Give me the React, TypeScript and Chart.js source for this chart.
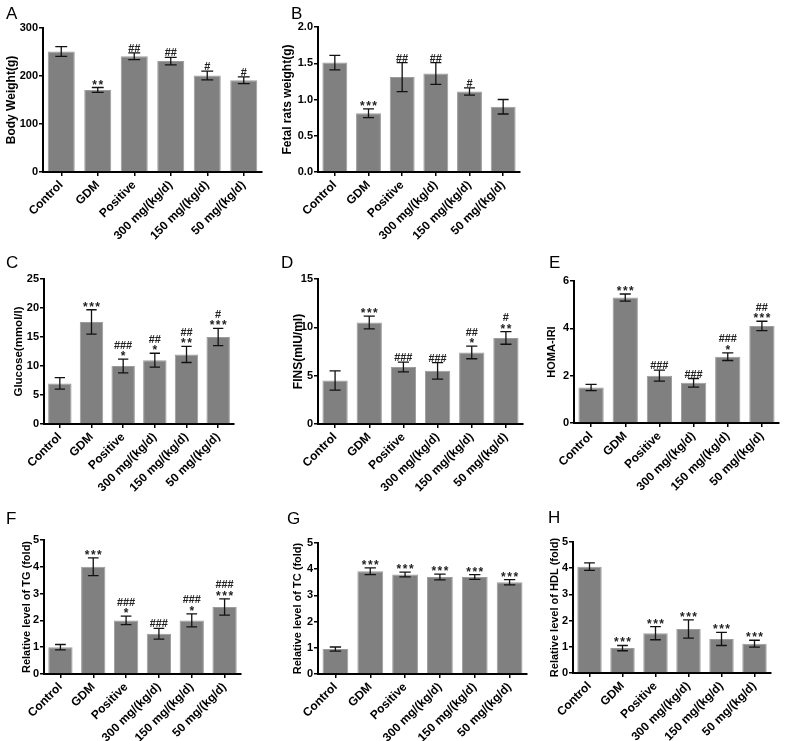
import React, { useEffect, useRef } from 'react';
import { Chart, registerables } from 'chart.js';

Chart.register(...registerables);

const FONT = '"Liberation Sans", Arial, Helvetica, sans-serif';

const categories = ['Control', 'GDM', 'Positive', '300 mg/(kg/d)', '150 mg/(kg/d)', '50 mg/(kg/d)'];

// A
const bodyWeight = [251, 171, 241, 231, 201, 191];
const bodyWeightErr = [10, 5, 7, 8, 9, 7];
const bodyWeightMarks = [[], ['**'], ['##'], ['##'], ['#'], ['#']];
const bodyWeightTicks = [0, 100, 200, 300];

// B
const fetalWeight = [1.51, 0.81, 1.31, 1.36, 1.11, 0.9];
const fetalWeightErr = [0.1, 0.06, 0.2, 0.15, 0.05, 0.1];
const fetalWeightMarks = [[], ['***'], ['##'], ['##'], ['#'], []];
const fetalWeightTicks = ['0.0', '0.5', '1.0', '1.5', '2.0'];

// C
const glucose = [7, 17.6, 10, 11, 12, 15];
const glucoseErr = [1, 2.1, 1.2, 1.2, 1.4, 1.5];
const glucoseMarks = [[], ['***'], ['###', '*'], ['##', '*'], ['##', '**'], ['#', '***']];
const glucoseTicks = [0, 5, 10, 15, 20, 25];

// D
const fins = [4.5, 10.5, 5.9, 5.5, 7.4, 8.9];
const finsErr = [1.0, 0.65, 0.5, 0.85, 0.65, 0.65];
const finsMarks = [[], ['***'], ['###'], ['###'], ['##', '*'], ['#', '**']];
const finsTicks = [0, 5, 10, 15];

// E
const homa = [1.5, 5.3, 2.0, 1.7, 2.8, 4.1];
const homaErr = [0.13, 0.15, 0.23, 0.18, 0.16, 0.2];
const homaMarks = [[], ['***'], ['###'], ['###'], ['###', '*'], ['##', '***']];
const homaTicks = [0, 2, 4, 6];

// F
const tg = [1.0, 4.0, 2.0, 1.5, 2.0, 2.5];
const tgErr = [0.1, 0.33, 0.16, 0.2, 0.24, 0.3];
const tgMarks = [[], ['***'], ['###', '*'], ['###'], ['###', '*'], ['###', '***']];
const foldTicks = [0, 1, 2, 3, 4, 5];

// G
const tc = [0.95, 3.92, 3.8, 3.7, 3.7, 3.5];
const tcErr = [0.08, 0.13, 0.09, 0.11, 0.09, 0.1];
const tcMarks = [[], ['***'], ['***'], ['***'], ['***'], ['***']];

// H
const hdl = [4.06, 0.95, 1.52, 1.68, 1.3, 1.12];
const hdlErr = [0.14, 0.1, 0.25, 0.35, 0.25, 0.13];
const hdlMarks = [[], ['***'], ['***'], ['***'], ['***'], ['***']];

type Area = { l: number; t: number; r: number; b: number };
type PanelCfg = {
  letter: string;
  letterX: number;
  letterY: number;
  title: string;
  titleSize: number;
  values: number[];
  errors: number[];
  marks: string[][];
  ticks: (number | string)[];
  area: Area;
  titleX: number;
};

const panels: PanelCfg[] = [
  { letter: 'A', letterX: 6, letterY: 5, title: 'Body Weight(g)', titleSize: 12, values: bodyWeight, errors: bodyWeightErr, marks: bodyWeightMarks, ticks: bodyWeightTicks, area: { l: 43, t: 28, r: 262, b: 172 }, titleX: 11 },
  { letter: 'B', letterX: 291, letterY: 5, title: 'Fetal rats weight(g)', titleSize: 12, values: fetalWeight, errors: fetalWeightErr, marks: fetalWeightMarks, ticks: fetalWeightTicks, area: { l: 318, t: 27, r: 520, b: 172 }, titleX: 287 },
  { letter: 'C', letterX: 6, letterY: 254, title: 'Glucose(mmol/l)', titleSize: 11.5, values: glucose, errors: glucoseErr, marks: glucoseMarks, ticks: glucoseTicks, area: { l: 44, t: 279, r: 234, b: 424 }, titleX: 19 },
  { letter: 'D', letterX: 281, letterY: 254, title: 'FINS(mIU/ml)', titleSize: 12, values: fins, errors: finsErr, marks: finsMarks, ticks: finsTicks, area: { l: 318, t: 279, r: 523, b: 424 }, titleX: 298 },
  { letter: 'E', letterX: 549, letterY: 254, title: 'HOMA-IRI', titleSize: 11, values: homa, errors: homaErr, marks: homaMarks, ticks: homaTicks, area: { l: 574, t: 281, r: 779, b: 423 }, titleX: 552 },
  { letter: 'F', letterX: 6, letterY: 510, title: 'Relative level of TG (fold)', titleSize: 11, values: tg, errors: tgErr, marks: tgMarks, ticks: foldTicks, area: { l: 44, t: 540, r: 241, b: 674 }, titleX: 27 },
  { letter: 'G', letterX: 287, letterY: 510, title: 'Relative level of TC (fold)', titleSize: 11, values: tc, errors: tcErr, marks: tcMarks, ticks: foldTicks, area: { l: 318, t: 543, r: 527, b: 674 }, titleX: 298 },
  { letter: 'H', letterX: 548, letterY: 509, title: 'Relative level of HDL (fold)', titleSize: 11, values: hdl, errors: hdlErr, marks: hdlMarks, ticks: foldTicks, area: { l: 573, t: 542, r: 771, b: 673 }, titleX: 555 },
];

const PADT = 10;
const PADR = 4;
const XH = 80;

function drawMarkRow(ctx: CanvasRenderingContext2D, text: string, x: number, baseline: number) {
  const isStar = text[0] === '*';
  const adv = isStar ? 6.2 : 6;
  ctx.font = isStar ? `bold 12px ${FONT}` : `bold 11px ${FONT}`;
  const n = text.length;
  const startX = x - ((n - 1) * adv) / 2;
  for (let i = 0; i < n; i++) {
    ctx.fillText(text[i], startX + i * adv, baseline + (isStar ? 2 : 0));
  }
}

const errorBarPlugin = {
  id: 'errorBars',
  afterDatasetsDraw(chart: any) {
    const { ctx } = chart;
    const meta = chart.getDatasetMeta(0);
    const yScale = chart.scales.y;
    const ds = chart.data.datasets[0];
    meta.data.forEach((bar: any, i: number) => {
      const v = ds.data[i];
      const e = ds.errors[i];
      const x = bar.x;
      const yTop = yScale.getPixelForValue(v + e);
      const yBot = yScale.getPixelForValue(v - e);
      const hw = bar.width * 0.22;
      ctx.save();
      ctx.strokeStyle = '#111';
      ctx.lineWidth = 1.3;
      ctx.beginPath();
      ctx.moveTo(x, yTop);
      ctx.lineTo(x, yBot);
      ctx.moveTo(x - hw, yTop);
      ctx.lineTo(x + hw, yTop);
      ctx.moveTo(x - hw, yBot);
      ctx.lineTo(x + hw, yBot);
      ctx.stroke();
      const marks: string[] = ds.marks[i] || [];
      ctx.fillStyle = '#222';
      ctx.textAlign = 'center';
      ctx.textBaseline = 'alphabetic';
      for (let k = 0; k < marks.length; k++) {
        const row = marks[marks.length - 1 - k];
        drawMarkRow(ctx, row, x, yTop - 1 - 9.5 * k);
      }
      ctx.restore();
    });
  },
};

function Panel({ cfg }: { cfg: PanelCfg }) {
  const ref = useRef<HTMLCanvasElement>(null);
  const { area, titleX } = cfg;
  const halfLine = (cfg.titleSize * 1.2) / 2;
  const left = Math.round(titleX - halfLine);
  const top = area.t - PADT;
  const width = area.r + PADR - left;
  const height = PADT + (area.b - area.t) + XH;
  const yW = area.l - left;
  const maxTick = Number(cfg.ticks[cfg.ticks.length - 1]);
  const step = Number(cfg.ticks[1]) - Number(cfg.ticks[0]);
  const decimals = typeof cfg.ticks[0] === 'string';

  useEffect(() => {
    const chart = new Chart(ref.current as HTMLCanvasElement, {
      type: 'bar',
      data: {
        labels: categories,
        datasets: [
          {
            data: cfg.values,
            errors: cfg.errors,
            marks: cfg.marks,
            backgroundColor: '#808080',
            borderColor: '#9c9c9c',
            borderWidth: 1,
            barPercentage: 0.74,
            categoryPercentage: 1,
          } as any,
        ],
      },
      options: {
        responsive: false,
        animation: false,
        devicePixelRatio: 1,
        events: [],
        layout: { padding: { top: PADT, right: PADR, left: 0, bottom: 0 } },
        plugins: { legend: { display: false }, tooltip: { enabled: false } },
        scales: {
          x: {
            offset: true,
            grid: { offset: false, drawOnChartArea: false, drawTicks: true, tickLength: 4, color: '#000', lineWidth: 1.5 },
            border: { display: true, color: '#000', width: 2 },
            ticks: {
              autoSkip: false,
              maxRotation: 45,
              minRotation: 45,
              padding: 2,
              color: '#000',
              font: { family: FONT, size: 12, weight: 'bold' },
            },
            afterFit: (s: any) => {
              s.height = XH;
            },
          },
          y: {
            min: 0,
            max: maxTick,
            ticks: {
              stepSize: step,
              padding: 1,
              color: '#000',
              font: { family: FONT, size: 11, weight: 'bold' },
              callback: (v: any) => (decimals ? Number(v).toFixed(1) : String(v)),
            },
            grid: { drawOnChartArea: false, drawTicks: true, tickLength: 4, color: '#000', lineWidth: 1.5 },
            border: { display: true, color: '#000', width: 2 },
            title: {
              display: true,
              text: cfg.title,
              color: '#000',
              font: { family: FONT, size: cfg.titleSize, weight: 'bold' },
              padding: 0,
            },
            afterFit: (s: any) => {
              s.width = yW;
            },
          },
        },
      } as any,
      plugins: [errorBarPlugin],
    });
    return () => chart.destroy();
  }, []);

  return (
    <>
      <canvas
        ref={ref}
        width={width}
        height={height}
        style={{ position: 'absolute', left, top, width, height }}
      />
      <div
        style={{
          position: 'absolute',
          left: cfg.letterX,
          top: cfg.letterY,
          fontFamily: FONT,
          fontSize: 17,
          lineHeight: '18px',
          color: '#000',
        }}
      >
        {cfg.letter}
      </div>
    </>
  );
}

export default function App() {
  return (
    <div
      style={{
        position: 'absolute',
        left: 0,
        top: 0,
        width: 788,
        height: 741,
        background: '#fff',
        overflow: 'hidden',
      }}
    >
      {panels.map((p) => (
        <Panel key={p.letter} cfg={p} />
      ))}
    </div>
  );
}
